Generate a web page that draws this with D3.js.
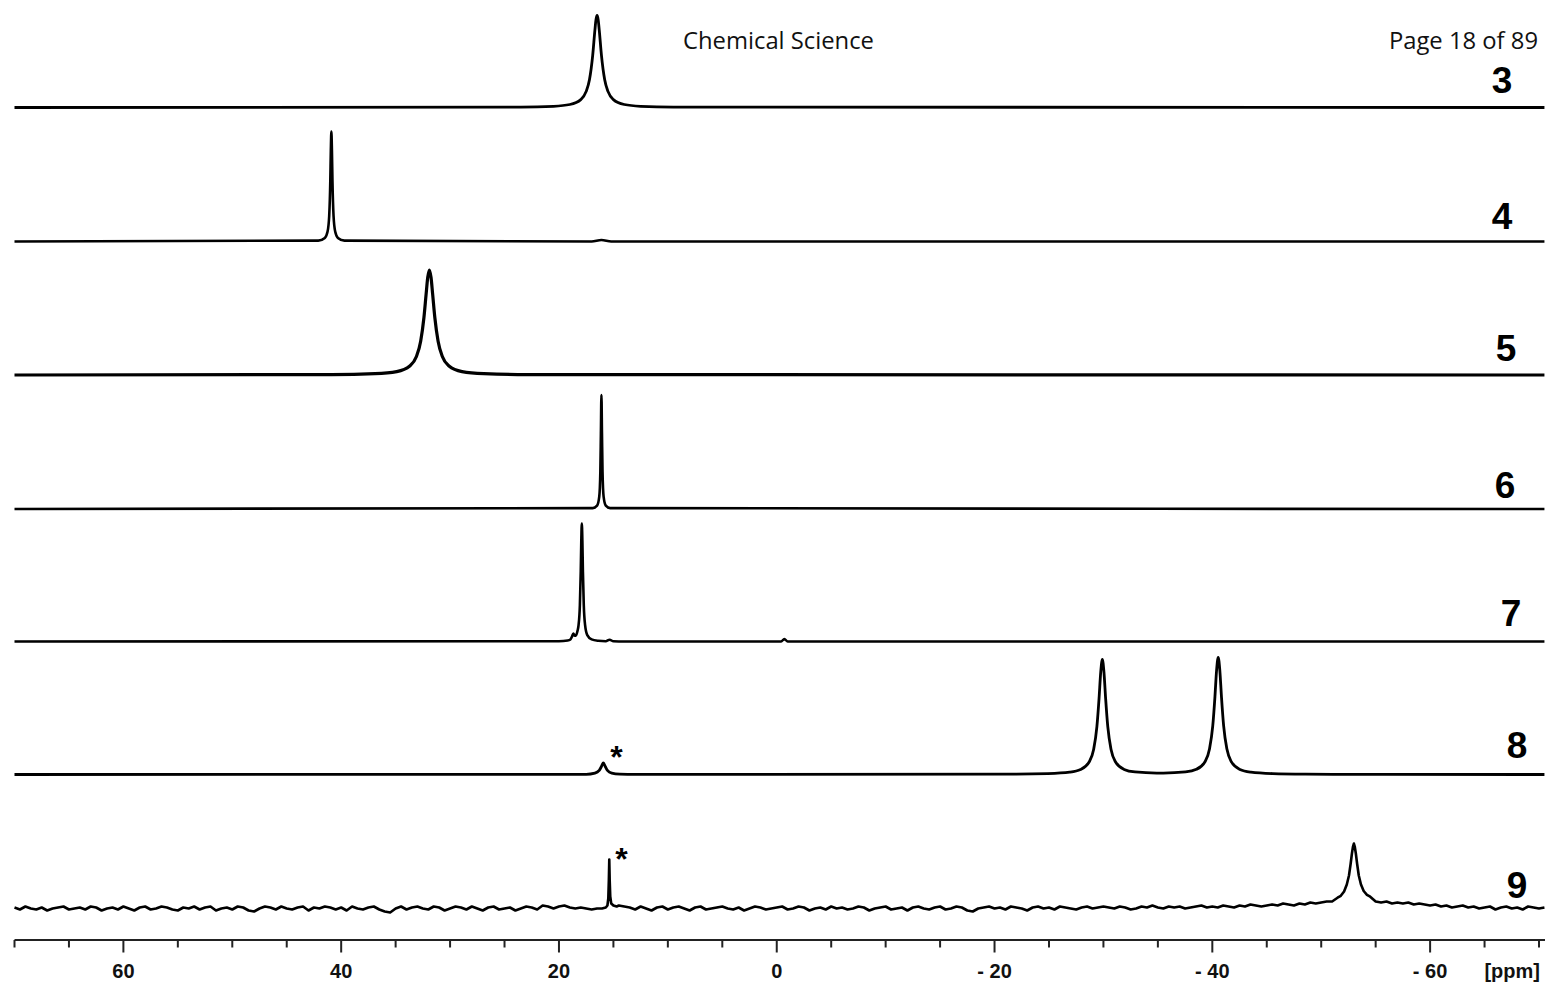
<!DOCTYPE html>
<html>
<head>
<meta charset="utf-8">
<script src="https://cdn.jsdelivr.net/npm/d3@7"></script>
<style>
  body { margin: 0; background: #fff; }
  svg { display: block; }
</style>
</head>
<body>
<svg id="chart" width="1548" height="998"></svg>
<script>
// ---- 31P NMR spectra, stacked (intensity in plot units) ----
const compounds = ["3", "4", "5", "6", "7", "8", "9"];

const majorTicks = [60, 40, 20, 0, -20, -40, -60];
const majorTickLabels = ["60", "40", "20", "0", "- 20", "- 40", "- 60"];
const minorTicks = [70, 65, 55, 50, 45, 35, 30, 25, 15, 10, 5, -5, -10, -15, -25, -30, -35, -45, -50, -55, -65, -70];

// [ppm, intensity]
const spectrum3 = [[70,0],[23.5,0.4],[20.5,1.2],[19,3.0],[18,7.9],[17.5,16.1],[17.2,27.7],[16.9,52.4],[16.7,77.4],[16.6,87.9],[16.5,92],[16.4,87.9],[16.3,77.4],[16.1,52.4],[15.8,27.7],[15.5,16.1],[15,7.9],[14,3.0],[12.5,1.2],[9.5,0.4],[-70.5,0]];
const spectrum4 = [[70,0],[42.1,0.9],[41.5,3.6],[41.25,9.9],[41.1,25.5],[41.0,60.2],[40.95,91.2],[40.9,110],[40.85,91.2],[40.8,60.2],[40.7,25.5],[40.55,9.9],[40.3,3.6],[39.7,0.9],[17,0],[16.1,1.5],[15.2,0],[-70.5,0]];
const spectrum5 = [[70,0],[40.9,0.4],[36.9,1.3],[34.9,3.4],[33.7,9.0],[33.1,18.2],[32.7,33.7],[32.4,57.5],[32.2,80.9],[32.05,97.7],[31.9,105],[31.75,97.7],[31.6,80.9],[31.4,57.5],[31.1,33.7],[30.7,18.2],[30.1,9.0],[28.9,3.4],[26.9,1.3],[22.9,0.4],[-70.5,0]];
const spectrum6 = [[70,0],[16.9,0.9],[16.5,3.4],[16.3,12.4],[16.2,37.5],[16.15,75.5],[16.1,114],[16.05,75.5],[16.0,37.5],[15.9,12.4],[15.7,3.4],[15.3,0.9],[-70.5,0]];
const spectrum7 = [[70,0],[20,0.3],[19.2,1.0],[18.95,2.0],[18.8,5.0],[18.68,8.0],[18.56,5.8],[18.45,5.8],[18.3,10.5],[18.2,16.3],[18.08,36.3],[18.0,69.7],[17.95,100.5],[17.9,118],[17.85,100.5],[17.8,69.7],[17.72,36.3],[17.6,16.3],[17.4,6.4],[17.0,2.1],[16.4,0.75],[15.7,0.3],[15.35,1.8],[15.0,0.2],[14,0],[-0.4,0],[-0.7,2.5],[-1.0,0],[-70.5,0]];
const spectrum8 = [[70,0],[17.5,0.2],[16.7,1.4],[16.3,4.1],[16.1,8.0],[15.93,11.5],[15.75,8.0],[15.55,4.1],[15.15,1.4],[14.4,0.4],[13,0.1],[-21.9,0.37],[-24.9,0.89],[-26.9,2.32],[-27.9,4.99],[-28.7,12.7],[-29.1,25.0],[-29.4,47.8],[-29.6,76.4],[-29.75,102.2],[-29.9,115.2],[-30.05,102.2],[-30.2,76.4],[-30.4,47.8],[-30.7,25.1],[-31.1,12.8],[-31.9,5.1],[-32.9,2.56],[-34.9,1.45],[-35.5,1.45],[-37.54,2.6],[-38.54,5.2],[-39.34,13.0],[-39.74,25.5],[-40.04,48.6],[-40.24,77.7],[-40.39,104.0],[-40.54,117.2],[-40.69,104.0],[-40.84,77.7],[-41.04,48.6],[-41.34,25.4],[-41.74,12.9],[-42.54,5.06],[-43.54,2.36],[-45.54,0.9],[-48.54,0.38],[-55,0.1],[-70.5,0]];

// spectrum 9: baseline noise on a 0.5 ppm grid from 70 ppm downfield to -70.5 ppm
const noise9 = [
  1,-1,2,0,-1,1,-2,0,1,2,-1,0,1,-1,2,1,-2,0,1,-1,
  2,0,-2,1,2,-1,0,2,1,-1,-2,1,0,2,-1,1,2,-2,0,1,
  -1,2,1,-2,-3,0,2,1,-1,2,0,-1,1,2,-2,1,0,2,1,-1,
  1,-2,2,0,-1,1,2,-1,-3,-4,0,2,-1,1,2,0,-1,2,1,-2,
  0,2,1,-1,2,0,-2,1,2,-1,0,1,-2,0,2,1,-1,3,2,0,
  2,3,1,0,1,0,-1,0,0,0,0,3,2,1,-1,2,0,-2,1,2,
  -1,1,2,0,-2,1,2,-1,0,1,2,0,-1,1,-2,0,2,1,-1,0,
  1,2,-1,0,2,1,-2,0,1,-1,2,0,1,-1,0,2,1,-2,0,1,
  2,-1,0,1,-2,1,2,0,-1,1,2,-1,0,2,1,-2,-3,0,1,2,
  0,1,-1,2,1,0,-2,1,2,0,1,-1,2,1,0,-1,1,2,0,1,
  2,1,0,2,1,-1,0,2,1,3,1,0,2,1,2,0,1,2,3,1,
  2,1,3,2,1,3,2,4,3,2,3,4,3,5,4,3,5,4,6,5,
  6,7,7,8,9,10,12,9,8,7,7,6,7,5,6,5,6,4,5,4,
  3,4,2,3,1,2,3,1,2,0,1,2,-1,1,2,0,1,-1,2,1,
  0,1
];
const peaks9 = [
  [[16.05,0],[15.7,1],[15.55,3],[15.47,10],[15.42,28],[15.38,49],[15.34,28],[15.29,12],[15.2,5],[15.0,3],[14.7,2]],
  [[-51.5,10.8],[-51.8,12.7],[-52.1,17],[-52.35,24],[-52.55,33],[-52.7,44.5],[-52.82,55],[-52.92,62],[-53,65],[-53.08,62],[-53.18,55],[-53.3,44.5],[-53.45,33],[-53.65,24],[-53.9,17.5],[-54.2,13.7],[-54.5,11.8]]
];

// ---- layout ----
const baselines = [107.5, 241.5, 375, 509, 641.5, 774.5, 908.5];
const labelX = [1502, 1502, 1506, 1505, 1511, 1517, 1517];
const labelY = [93, 229, 361, 498, 626, 758, 898];
const strokeW = [2.8, 2.6, 3.2, 2.6, 2.6, 2.8, 2.6];
const axisY = 940;

const svg = d3.select("#chart");

const x = d3.scaleLinear().domain([70, -70]).range([14.5, 1539]);

// assemble spectrum 9 from the noise grid and its two peaks
function buildSpectrum9() {
  const pts = [];
  noise9.forEach((v, i) => {
    const ppm = 70 - i * 0.5;
    const inside = peaks9.some(pk => ppm <= pk[0][0] && ppm >= pk[pk.length - 1][0]);
    if (!inside) pts.push([ppm, v]);
  });
  peaks9.forEach(pk => pk.forEach(p => pts.push(p)));
  pts.sort((a, b) => b[0] - a[0]);
  return pts;
}

const spectra = [spectrum3, spectrum4, spectrum5, spectrum6, spectrum7, spectrum8, buildSpectrum9()];

const traces = svg.append("g").attr("class", "traces");
spectra.forEach((data, i) => {
  const y = d3.scaleLinear().domain([0, 100]).range([baselines[i], baselines[i] - 100]);
  const line = d3.line()
    .x(d => x(d[0]))
    .y(d => y(d[1]))
    .curve(i === 6 ? d3.curveLinear : d3.curveMonotoneX);
  traces.append("path")
    .datum(data)
    .attr("d", line)
    .attr("fill", "none")
    .attr("stroke", "#000")
    .attr("stroke-width", strokeW[i])
    .attr("stroke-linejoin", "round")
    .attr("stroke-linecap", "butt");
});

// compound numbers
svg.append("g").selectAll("text")
  .data(compounds)
  .join("text")
  .attr("x", (d, i) => labelX[i])
  .attr("y", (d, i) => labelY[i])
  .attr("text-anchor", "middle")
  .attr("font-family", "'Liberation Sans', Arial, sans-serif")
  .attr("font-weight", "bold")
  .attr("font-size", 37)
  .attr("fill", "#000")
  .text(d => d);

// impurity markers
svg.append("text").attr("x", 616.5).attr("y", 768)
  .attr("text-anchor", "middle")
  .attr("font-family", "'Liberation Sans', Arial, sans-serif")
  .attr("font-weight", "bold").attr("font-size", 32).text("*");
svg.append("text").attr("x", 621.5).attr("y", 870)
  .attr("text-anchor", "middle")
  .attr("font-family", "'Liberation Sans', Arial, sans-serif")
  .attr("font-weight", "bold").attr("font-size", 32).text("*");

// ppm axis
const axisG = svg.append("g").attr("class", "axis");
axisG.append("line")
  .attr("x1", 14.5).attr("x2", 1545)
  .attr("y1", axisY).attr("y2", axisY)
  .attr("stroke", "#222").attr("stroke-width", 1.8);
axisG.selectAll("line.minor")
  .data(minorTicks).join("line").attr("class", "minor")
  .attr("x1", d => x(d)).attr("x2", d => x(d))
  .attr("y1", axisY).attr("y2", axisY + 7.5)
  .attr("stroke", "#222").attr("stroke-width", 2);
axisG.selectAll("line.major")
  .data(majorTicks).join("line").attr("class", "major")
  .attr("x1", d => x(d)).attr("x2", d => x(d))
  .attr("y1", axisY).attr("y2", axisY + 12.5)
  .attr("stroke", "#222").attr("stroke-width", 2);
axisG.selectAll("text.tick")
  .data(majorTicks).join("text").attr("class", "tick")
  .attr("x", d => x(d)).attr("y", 978)
  .attr("text-anchor", "middle")
  .attr("font-family", "'Liberation Sans', Arial, sans-serif")
  .attr("font-weight", "bold").attr("font-size", 20)
  .attr("fill", "#111")
  .text((d, i) => majorTickLabels[i]);
axisG.append("text")
  .attr("x", 1540).attr("y", 978)
  .attr("text-anchor", "end")
  .attr("font-family", "'Liberation Sans', Arial, sans-serif")
  .attr("font-weight", "bold").attr("font-size", 20)
  .attr("fill", "#111")
  .text("[ppm]");

// page header
svg.append("text").attr("x", 683).attr("y", 49)
  .attr("font-family", "'Open Sans', 'Noto Sans', sans-serif")
  .attr("font-size", 23.8).attr("fill", "#111")
  .text("Chemical Science");
svg.append("text").attr("x", 1538).attr("y", 49)
  .attr("text-anchor", "end")
  .attr("font-family", "'Open Sans', 'Noto Sans', sans-serif")
  .attr("font-size", 23.8).attr("fill", "#111")
  .text("Page 18 of 89");
</script>
</body>
</html>
